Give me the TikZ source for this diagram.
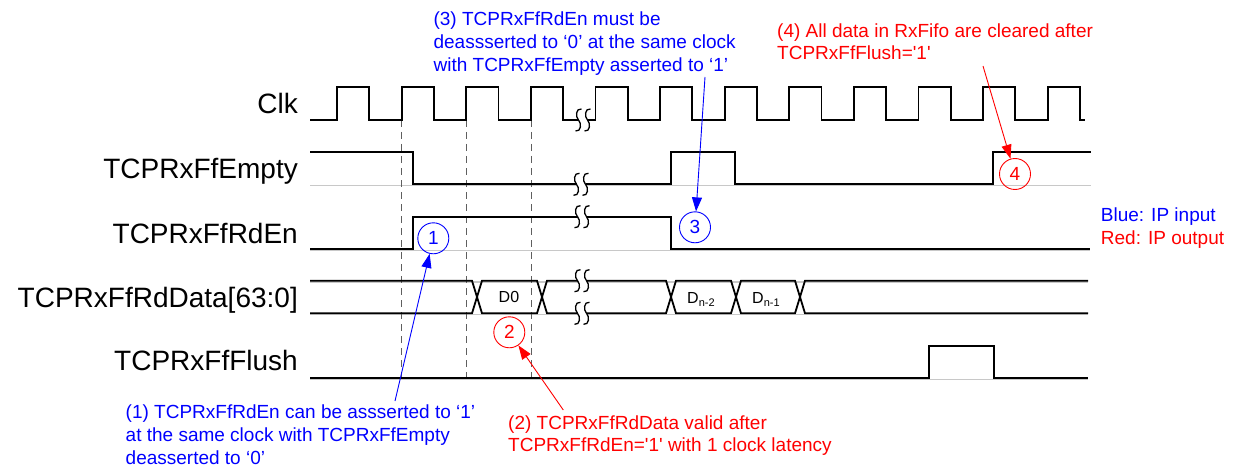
\documentclass[tikz,border=0pt]{standalone}
\usepackage{fontspec}
\setmainfont{Liberation Sans}
\usetikzlibrary{arrows.meta}
\definecolor{ipblue}{RGB}{0,0,255}
\definecolor{ipred}{RGB}{255,0,0}
\definecolor{dashgray}{RGB}{95,95,95}
\definecolor{basegray}{RGB}{200,200,200}
\newcommand\brkmark[2]{%
  \fill[white] (#1-4,#2-3) rectangle (#1+5,#2+3);
  \foreach \cx in {#1-4.5,#1+4.5}{%
    \draw[line width=1.3pt,black] (\cx+3,#2-11) .. controls (\cx-3,#2-12) and (\cx-3,#2-3) .. (\cx,#2)
      .. controls (\cx+3,#2+3) and (\cx+3,#2+12) .. (\cx-3,#2+11);
  }%
}
\begin{document}
\begin{tikzpicture}[x=1pt,y=-1pt,
  sig/.style={line width=1.8pt, black, line join=miter},
  base/.style={line width=1.2pt, basegray},
  guide/.style={line width=1.5pt, dashgray, dash pattern=on 7pt off 5pt},
  lbl/.style={font=\fontsize{28}{30}\selectfont, anchor=base east, inner sep=0},
  note/.style={font=\fontsize{19}{23.3}\selectfont, anchor=base west, inner sep=0, align=left},
  notetight/.style={font=\fontsize{19}{21.8}\selectfont, anchor=base west, inner sep=0, align=left},
  callout/.style={circle, draw, line width=0.9pt, minimum size=31pt, inner sep=0, font=\fontsize{19}{19}\selectfont},
  ptr/.style={line width=0.9pt, -{Triangle[length=14pt,width=10pt]}},
  dlbl/.style={font=\fontsize{16}{16}\selectfont, anchor=base west, inner sep=0},
]
\useasboundingbox (0,0) rectangle (1234,468);

% signal labels
\node[lbl] (lclk)   at (298,113.5) {Clk};
\node[lbl] (lempty) at (298,178.5) {TCPRxFfEmpty};
\node[lbl] (lrden)  at (298,243.5) {TCPRxFfRdEn};
\node[lbl] (ldata)  at (298,307)   {TCPRxFfRdData[63:0]};
\node[lbl] (lflush) at (298,370)   {TCPRxFfFlush};

% gray base lines
\draw[base] (310,185.2) -- (1091,185.2);
\draw[base] (310,250.2) -- (1090,250.2);
\draw[base] (310,282) -- (1088,282);
\draw[base] (310,314.2) -- (1088,314.2);
\draw[base] (310,379.2) -- (1088,379.2);

% dashed guides
\draw[guide] (401.7,120) -- (401.7,378);
\draw[guide] (466.3,120) -- (466.3,378);
\draw[guide] (531.3,120) -- (531.3,378);

% clock
\draw[sig] (310,120)
  \foreach \k in {0,...,11}{ -- ({337+64.6*\k},120) -- ({337+64.6*\k},87.3) -- ({369.3+64.6*\k},87.3) -- ({369.3+64.6*\k},120) }
  -- (1085,120);

% empty
\draw[sig] (310,151.7) -- (413.3,151.7) -- (413.3,184.3) -- (671,184.3) -- (671,151.7) -- (735.3,151.7)
  -- (735.3,184.3) -- (993.3,184.3) -- (993.3,151.7) -- (1091,151.7);

% rden
\draw[sig] (310,249.3) -- (412.7,249.3) -- (412.7,216.7) -- (671,216.7) -- (671,249.3) -- (1090,249.3);

% data
\draw[sig] (310,280.7) -- (472,280.7) -- (482,313.3) -- (537,313.3) -- (547,280.7) -- (666,280.7) -- (676,313.3)
  -- (731,313.3) -- (741,280.7) -- (795,280.7) -- (805,313.3) -- (1088,313.3);
\draw[sig] (310,313.3) -- (472,313.3) -- (482,280.7) -- (537,280.7) -- (547,313.3) -- (666,313.3) -- (676,280.7)
  -- (731,280.7) -- (741,313.3) -- (795,313.3) -- (805,280.7) -- (1088,280.7);
\node[dlbl] (d0) at (498.5,302.5) {D0};
\node[dlbl] (dn2) at (687,303) {D\raisebox{-3.5pt}{\fontsize{11}{11}\selectfont n-2}};
\node[dlbl] (dn1) at (752,303) {D\raisebox{-3.5pt}{\fontsize{11}{11}\selectfont n-1}};

% flush
\draw[sig] (310,378.3) -- (929,378.3) -- (929,345.7) -- (994,345.7) -- (994,378.3) -- (1088,378.3);

% break marks
\brkmark{583}{120}
\brkmark{581}{184.3}
\brkmark{582}{216.7}
\brkmark{582}{280.7}
\brkmark{582}{313.3}

% callouts
\node[callout, ipblue] (c1) at (433.3,238.3) {1};
\node[callout, ipred]  (c2) at (509.3,332.3) {2};
\node[callout, ipblue] (c3) at (695,227.3) {3};
\node[callout, ipred]  (c4) at (1015,174) {4};

% notes (base anchor = baseline of last line)
\node[note, ipblue] (t3) at (433.4,72) {(3) TCPRxFfRdEn must be\\deassserted to ‘0’ at the same clock\\with TCPRxFfEmpty asserted to ‘1’};
\node[notetight, ipred] (t4) at (777,59.8) {(4) All data in RxFifo are cleared after\\TCPRxFfFlush=\textquotesingle1\textquotesingle};
\node[note, ipblue] (t1) at (125.5,464.8) {(1) TCPRxFfRdEn can be assserted to ‘1’\\at the same clock with TCPRxFfEmpty\\deasserted to ‘0’};
\node[notetight, ipred] (t2) at (508,451.5) {(2) TCPRxFfRdData valid after\\TCPRxFfRdEn=\textquotesingle1\textquotesingle{} with 1 clock latency};
\node[note, ipblue] (lgb) at (1100.7,221.5) {Blue: IP input};
\node[note, ipred]  (lgr) at (1100.7,244.8) {Red: IP output};

% pointers
\coordinate (a1) at (395,401);
\coordinate (a2) at (563.3,410);
\coordinate (a3) at (705,77);
\coordinate (a4) at (983,66);
\draw[ptr, ipblue] (a1) -- (c1);
\draw[ptr, ipred]  (a2) -- (c2);
\draw[ptr, ipblue] (a3) -- (c3);
\draw[ptr, ipred]  (a4) -- (c4);
\end{tikzpicture}
\end{document}
